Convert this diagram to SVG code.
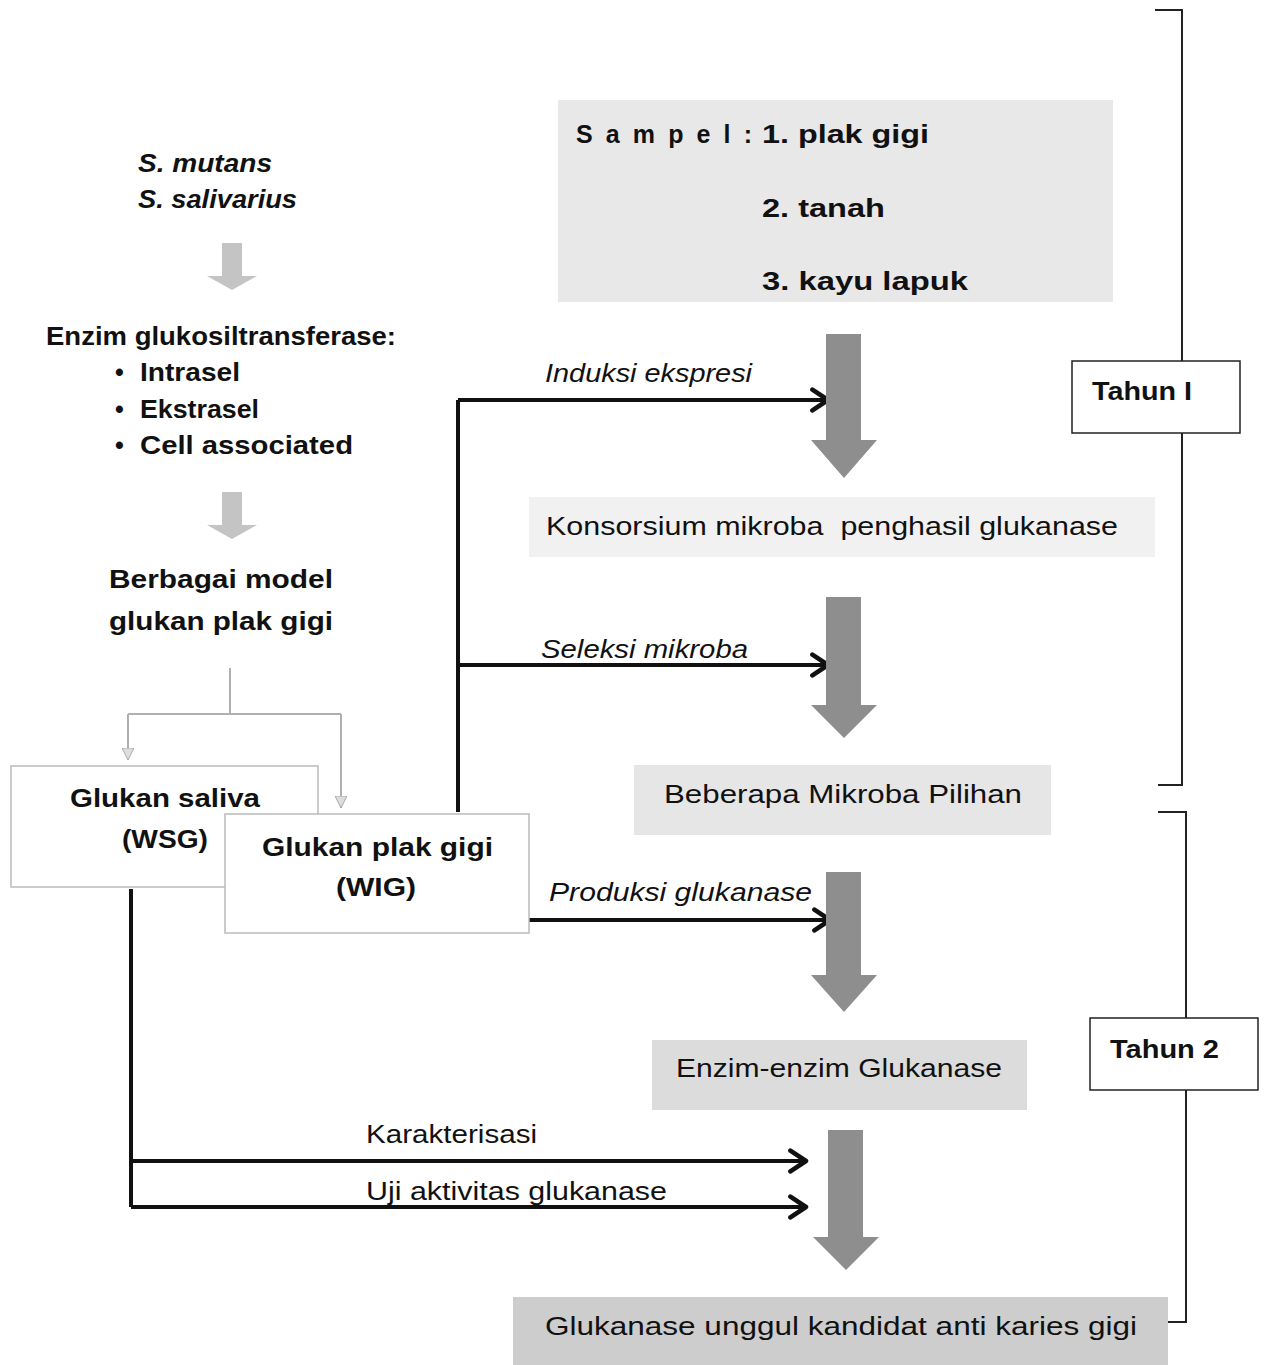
<svg xmlns="http://www.w3.org/2000/svg" width="1264" height="1365" viewBox="0 0 1264 1365">
<style>
text{font-family:"Liberation Sans",Arial,sans-serif;fill:#111}
.b{font-weight:bold;font-size:25px}
.bi{font-weight:bold;font-style:italic;font-size:25px}
.n{font-size:26px}
.i{font-style:italic;font-size:25px}
.blk{stroke:#111;stroke-width:4;fill:none}
.gl{stroke:#b0b0b0;stroke-width:2;fill:none}
.big{fill:#8e8e8e}
.sm{fill:#c4c4c4}
.br{stroke:#222;stroke-width:2;fill:none}
</style>
<defs>
<marker id="chev" viewBox="0 0 20 20" refX="17" refY="10" markerWidth="6.5" markerHeight="6.5" markerUnits="strokeWidth" orient="auto">
<path d="M5,2 L17,10 L5,18" fill="none" stroke="#111" stroke-width="3.5" stroke-linecap="round" stroke-linejoin="round"/>
</marker>
<marker id="tri" viewBox="0 0 12 12" refX="12" refY="6" markerWidth="12" markerHeight="12" markerUnits="userSpaceOnUse" orient="auto">
<path d="M0,0 L12,6 L0,12 Z" fill="#ddd" stroke="#aaa" stroke-width="1"/>
</marker>
</defs>
<rect width="1264" height="1365" fill="#fff"/>

<g id="connectors">
<path class="gl" d="M230,668 V714"/>
<path class="gl" d="M128,714 H341"/>
<path class="gl" d="M128,714 V760" marker-end="url(#tri)"/>
<path class="gl" d="M341,714 V808" marker-end="url(#tri)"/>
<path class="blk" d="M458,812 V400"/>
<path class="blk" d="M458,400 H828" marker-end="url(#chev)"/>
<path class="blk" d="M458,665 H828" marker-end="url(#chev)"/>
<path class="blk" d="M529,920 H830" marker-end="url(#chev)"/>
<path class="blk" d="M131,889 V1207"/>
<path class="blk" d="M131,1161 H806" marker-end="url(#chev)"/>
<path class="blk" d="M131,1207 H806" marker-end="url(#chev)"/>
<path class="sm" d="M222,243 H242 V276 H257 L232,290 L207,276 H222 Z"/>
<path class="sm" d="M222,492 H242 V525 H257 L232,539 L207,525 H222 Z"/>
<path class="big" d="M826,334 H861 V440 H877 L844,478 L811,440 H826 Z"/>
<path class="big" d="M826,597 H861 V705 H877 L844,738 L811,705 H826 Z"/>
<path class="big" d="M826,872 H861 V975 H877 L844,1012 L811,975 H826 Z"/>
<path class="big" d="M828,1130 H863 V1237 H879 L846,1270 L813,1237 H828 Z"/>
<path class="br" d="M1155,10 H1182 V785 H1158"/>
<path class="br" d="M1158,812 H1186 V1322 H1168"/>
</g>

<g id="species">
<text class="bi" x="138" y="172" textLength="134" lengthAdjust="spacingAndGlyphs">S. mutans</text>
<text class="bi" x="138" y="208" textLength="159" lengthAdjust="spacingAndGlyphs">S. salivarius</text>
</g>

<g id="enzim">
<text class="b" x="46" y="345" textLength="350" lengthAdjust="spacingAndGlyphs">Enzim glukosiltransferase:</text>
<text class="b" x="115" y="381">•</text>
<text class="b" x="140" y="381" textLength="100" lengthAdjust="spacingAndGlyphs">Intrasel</text>
<text class="b" x="115" y="418">•</text>
<text class="b" x="140" y="418" textLength="119" lengthAdjust="spacingAndGlyphs">Ekstrasel</text>
<text class="b" x="115" y="454">•</text>
<text class="b" x="140" y="454" textLength="213" lengthAdjust="spacingAndGlyphs">Cell associated</text>
</g>

<g id="model">
<text class="b" x="109" y="588" textLength="224" lengthAdjust="spacingAndGlyphs">Berbagai model</text>
<text class="b" x="109" y="630" textLength="224" lengthAdjust="spacingAndGlyphs">glukan plak gigi</text>
</g>

<g id="wsg">
<rect x="11" y="766" width="307" height="121" fill="#fff" stroke="#bbb" stroke-width="1.5"/>
<text class="b" x="70" y="807" textLength="190" lengthAdjust="spacingAndGlyphs">Glukan saliva</text>
<text class="b" x="122" y="848" textLength="86" lengthAdjust="spacingAndGlyphs">(WSG)</text>
</g>

<g id="wig">
<rect x="225" y="814" width="304" height="119" fill="#fff" stroke="#bbb" stroke-width="1.5"/>
<text class="b" x="262" y="856" textLength="231" lengthAdjust="spacingAndGlyphs">Glukan plak gigi</text>
<text class="b" x="336" y="896" textLength="80" lengthAdjust="spacingAndGlyphs">(WIG)</text>
</g>

<g id="sampel">
<rect x="558" y="100" width="555" height="202" fill="#e8e8e8"/>
<text class="b" x="576" y="143" textLength="176" lengthAdjust="spacing" font-size="27">Sampel:</text>
<text class="b" x="762" y="143" textLength="167" lengthAdjust="spacingAndGlyphs" font-size="27">1. plak gigi</text>
<text class="b" x="762" y="217" textLength="123" lengthAdjust="spacingAndGlyphs" font-size="27">2. tanah</text>
<text class="b" x="762" y="290" textLength="206" lengthAdjust="spacingAndGlyphs" font-size="27">3. kayu lapuk</text>
</g>

<g id="labels">
<text class="i" x="545" y="382" textLength="207" lengthAdjust="spacingAndGlyphs">Induksi ekspresi</text>
<text class="i" x="541" y="658" textLength="207" lengthAdjust="spacingAndGlyphs">Seleksi mikroba</text>
<text class="i" x="549" y="901" textLength="263" lengthAdjust="spacingAndGlyphs">Produksi glukanase</text>
<text class="n" x="366" y="1143" textLength="171" lengthAdjust="spacingAndGlyphs">Karakterisasi</text>
<text class="n" x="366" y="1200" textLength="301" lengthAdjust="spacingAndGlyphs">Uji aktivitas glukanase</text>
</g>

<g id="konsorsium">
<rect x="529" y="497" width="626" height="60" fill="#f1f1f1"/>
<text class="n" x="546" y="535" textLength="572" lengthAdjust="spacingAndGlyphs" xml:space="preserve">Konsorsium mikroba  penghasil glukanase</text>
</g>

<g id="pilihan">
<rect x="634" y="765" width="417" height="70" fill="#e6e6e6"/>
<text class="n" x="664" y="803" textLength="358" lengthAdjust="spacingAndGlyphs">Beberapa Mikroba Pilihan</text>
</g>

<g id="glukanase">
<rect x="652" y="1040" width="375" height="70" fill="#dcdcdc"/>
<text class="n" x="676" y="1077" textLength="326" lengthAdjust="spacingAndGlyphs">Enzim-enzim Glukanase</text>
</g>

<g id="unggul">
<rect x="513" y="1297" width="655" height="68" fill="#cdcdcd"/>
<text class="n" x="545" y="1335" textLength="592" lengthAdjust="spacingAndGlyphs">Glukanase unggul kandidat anti karies gigi</text>
</g>

<g id="tahun1">
<rect x="1072" y="361" width="168" height="72" fill="#fff" stroke="#222" stroke-width="1.5"/>
<text class="b" x="1092" y="400" textLength="100" lengthAdjust="spacingAndGlyphs">Tahun I</text>
</g>

<g id="tahun2">
<rect x="1090" y="1018" width="168" height="72" fill="#fff" stroke="#222" stroke-width="1.5"/>
<text class="b" x="1110" y="1058" textLength="109" lengthAdjust="spacingAndGlyphs">Tahun 2</text>
</g>
</svg>
